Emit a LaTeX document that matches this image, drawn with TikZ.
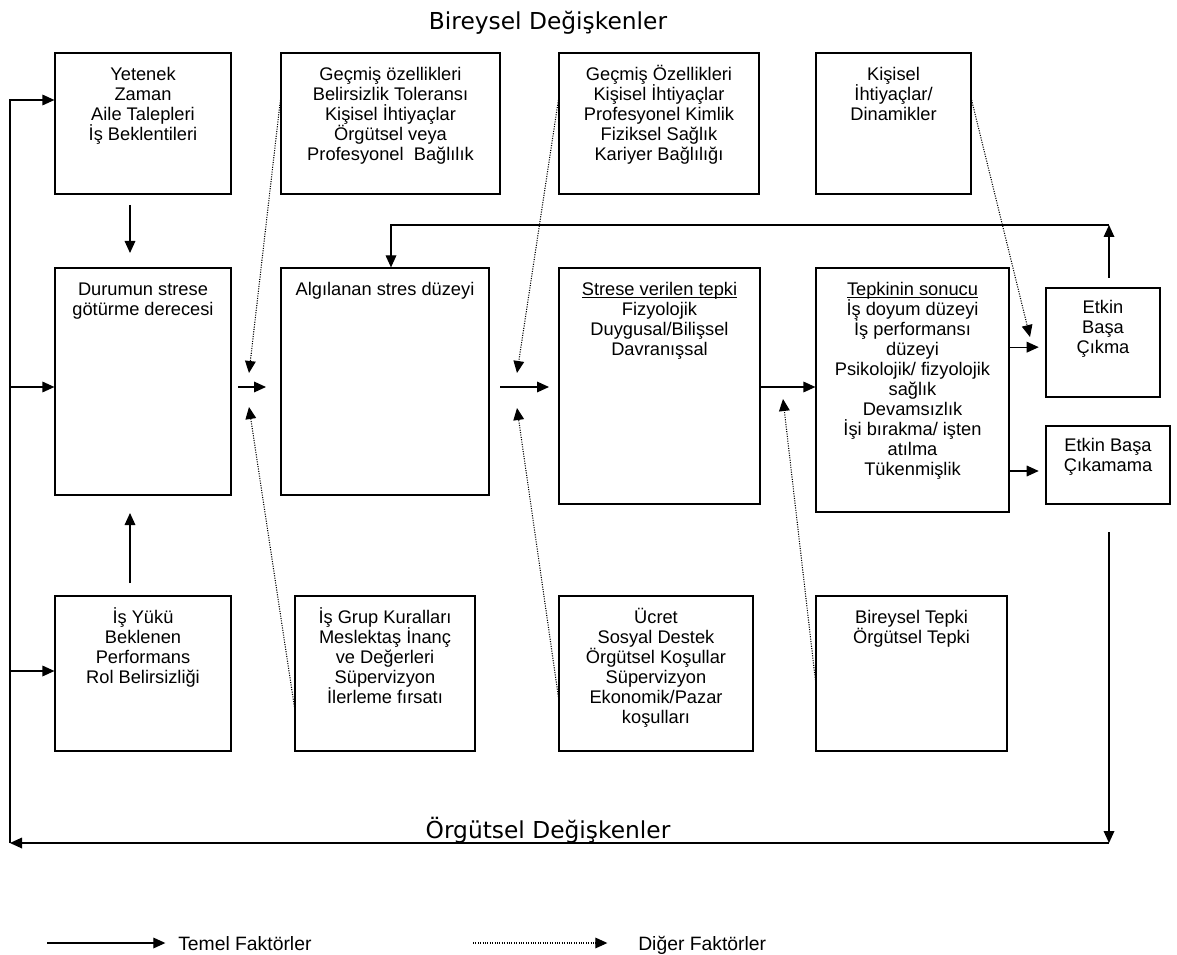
\documentclass[tikz,border=0pt]{standalone}
\usepackage{fontspec}
\setmainfont{Liberation Sans}
\newfontfamily\titlefont{DejaVu Sans}
\usetikzlibrary{arrows.meta}
\newcommand\boxstrut{\rule{0pt}{12pt}}
\newcommand\undl[1]{\setbox0\hbox{#1}\rlap{\rule[-1.6pt]{\wd0}{0.6pt}}\box0}

\begin{document}
\begin{tikzpicture}[x=0.75pt,y=-0.75pt,
  box/.style={draw,line width=0.9pt,inner sep=0pt},
  txt/.style={anchor=north,align=center,inner sep=0pt,font=\fontsize{13.7}{15}\selectfont},
  arr/.style={line width=0.9pt,-{Triangle[length=9pt,width=8pt]}},
  dot/.style={line width=0.8pt,densely dotted,-{Triangle[length=9pt,width=8pt]}},
  ttl/.style={anchor=base,inner sep=0pt,font=\titlefont\fontsize{17.5}{20}\selectfont},
  leg/.style={anchor=base west,inner sep=0pt,font=\fontsize{14.5}{16}\selectfont}]
\useasboundingbox (0,0) rectangle (1177,955);

% titles
\node (bd) at (548,30) [ttl] {Bireysel Değişkenler};
\node (od) at (548,838) [ttl] {Örgütsel Değişkenler};

% top row
\node (yet) at (143,123.5) [box,minimum width=132pt,minimum height=105.75pt] {};
\node (gec1) at (390.5,123.5) [box,minimum width=164.25pt,minimum height=105.75pt] {};
\node (gec2) at (659,123.5) [box,minimum width=150pt,minimum height=105.75pt] {};
\node (kis) at (893.5,123.5) [box,minimum width=116.25pt,minimum height=105.75pt] {};
\node (yet-t) at (143,64.1) [txt] {\boxstrut Yetenek\\Zaman\\Aile Talepleri\\İş Beklentileri};
\node (gec1-t) at (390.5,64.1) [txt] {\boxstrut Geçmiş özellikleri\\Belirsizlik Toleransı\\Kişisel İhtiyaçlar\\Örgütsel veya\\Profesyonel\ \ Bağlılık};
\node (gec2-t) at (659,64.1) [txt] {\boxstrut Geçmiş Özellikleri\\Kişisel İhtiyaçlar\\Profesyonel Kimlik\\Fiziksel Sağlık\\Kariyer Bağlılığı};
\node (kis-t) at (893.5,64.1) [txt] {\boxstrut Kişisel\\İhtiyaçlar/\\Dinamikler};

% middle row
\node (dur) at (143,381.5) [box,minimum width=132pt,minimum height=170.25pt] {};
\node (alg) at (385,381.5) [box,minimum width=156pt,minimum height=170.25pt] {};
\node (str) at (659.5,386) [box,minimum width=150.75pt,minimum height=177pt] {};
\node (tep) at (912.5,390) [box,minimum width=144.75pt,minimum height=183pt] {};
\node (etk) at (1103,342.5) [box,minimum width=85.5pt,minimum height=81.75pt] {};
\node (etk2) at (1108,465) [box,minimum width=93pt,minimum height=58.5pt] {};
\node (dur-t) at (143,279.1) [txt] {\boxstrut Durumun strese\\götürme derecesi};
\node (alg-t) at (385,279.1) [txt] {\boxstrut Algılanan stres düzeyi};
\node (str-t) at (659.5,279.1) [txt] {\boxstrut\undl{Strese verilen tepki}\\Fizyolojik\\Duygusal/Bilişsel\\Davranışsal};
\node (tep-t) at (912.5,279.1) [txt] {\boxstrut\undl{Tepkinin sonucu}\\İş doyum düzeyi\\İş performansı\\düzeyi\\Psikolojik/ fizyolojik\\sağlık\\Devamsızlık\\İşi bırakma/ işten\\atılma\\Tükenmişlik};
\node (etk-t) at (1103,297.1) [txt] {\boxstrut Etkin\\Başa\\Çıkma};
\node (etk2-t) at (1108,435.1) [txt] {\boxstrut Etkin Başa\\Çıkamama};

% bottom row
\node (isy) at (143,673.5) [box,minimum width=132pt,minimum height=116.25pt] {};
\node (isg) at (385,673.5) [box,minimum width=135pt,minimum height=116.25pt] {};
\node (ucr) at (656,673.5) [box,minimum width=145.5pt,minimum height=116.25pt] {};
\node (bir) at (911.5,673.5) [box,minimum width=143.25pt,minimum height=116.25pt] {};
\node (isy-t) at (143,607.1) [txt] {\boxstrut İş Yükü\\Beklenen\\Performans\\Rol Belirsizliği};
\node (isg-t) at (385,607.1) [txt] {\boxstrut İş Grup Kuralları\\Meslektaş İnanç\\ve Değerleri\\Süpervizyon\\İlerleme fırsatı};
\node (ucr-t) at (656,607.1) [txt] {\boxstrut Ücret\\Sosyal Destek\\Örgütsel Koşullar\\Süpervizyon\\Ekonomik/Pazar\\koşulları};
\node (bir-t) at (911.5,607.1) [txt] {\boxstrut Bireysel Tepki\\Örgütsel Tepki};

% junction points
\coordinate (lt) at (10,100);
\coordinate (lm) at (10,387);
\coordinate (lb) at (10,671);
\coordinate (bl) at (10,843);
\coordinate (br) at (1109,843);
\coordinate (rb) at (1109,532);
\coordinate (rt) at (1109,278);
\coordinate (ft) at (1109,225);
\coordinate (fl) at (391,225);
\coordinate (v1) at (130,205);
\coordinate (v2) at (130,253);
\coordinate (v3) at (130,583);
\coordinate (v4) at (130,513);
\coordinate (h1) at (238,387);
\coordinate (h2) at (266,387);
\coordinate (h3) at (500,387);
\coordinate (h4) at (549,387);
\coordinate (t1) at (249,373);
\coordinate (t2) at (249,407);
\coordinate (t3) at (517,373);
\coordinate (t4) at (517,408);
\coordinate (t5) at (1030,337);
\coordinate (t6) at (783,399);

% main factors
\draw[arr] (bl) -- (lt) -- (lt -| yet.west);
\draw[arr] (lm) -- (lm -| dur.west);
\draw[arr] (lb) -- (lb -| isy.west);
\draw[arr] (v1) -- (v2);
\draw[arr] (v3) -- (v4);
\draw[arr] (h1) -- (h2);
\draw[arr] (h3) -- (h4);
\draw[arr] (str.east |- h4) -- (tep.west |- h4);
\draw[arr] ([yshift=-3.5pt]tep.east |- etk.west) -- ([shift={(-5pt,-3.5pt)}]etk.west);
\draw[arr] ([yshift=-4.5pt]tep.east |- etk2.west) -- ([shift={(-5pt,-4.5pt)}]etk2.west);
\draw[arr] (rt) -- (ft);
\draw[arr] (ft) -- (fl) -- (fl |- alg.north);
\draw[arr] (rb) -- (br);
\draw[arr] (br) -- (bl);

% other factors
\draw[dot] (gec1.west |- lt) -- (t1);
\draw[dot] ([yshift=-25pt]isg.west) -- (t2);
\draw[dot] (gec2.west |- lt) -- (t3);
\draw[dot] ([yshift=-17.5pt]ucr.west) -- (t4);
\draw[dot] (kis.east |- lt) -- (t5);
\draw[dot] ([yshift=-5pt]bir.west) -- (t6);

% legend
\coordinate (l1) at (47,943);
\coordinate (l2) at (473,943);
\node (tf) at (178,950) [leg] {Temel Faktörler};
\node (df) at (638,950) [leg] {Diğer Faktörler};
\draw[arr] (l1) -- ([xshift=-9.5pt]tf.west |- l1);
\draw[dot] (l2) -- ([xshift=-23pt]df.west |- l2);
\end{tikzpicture}
\end{document}
